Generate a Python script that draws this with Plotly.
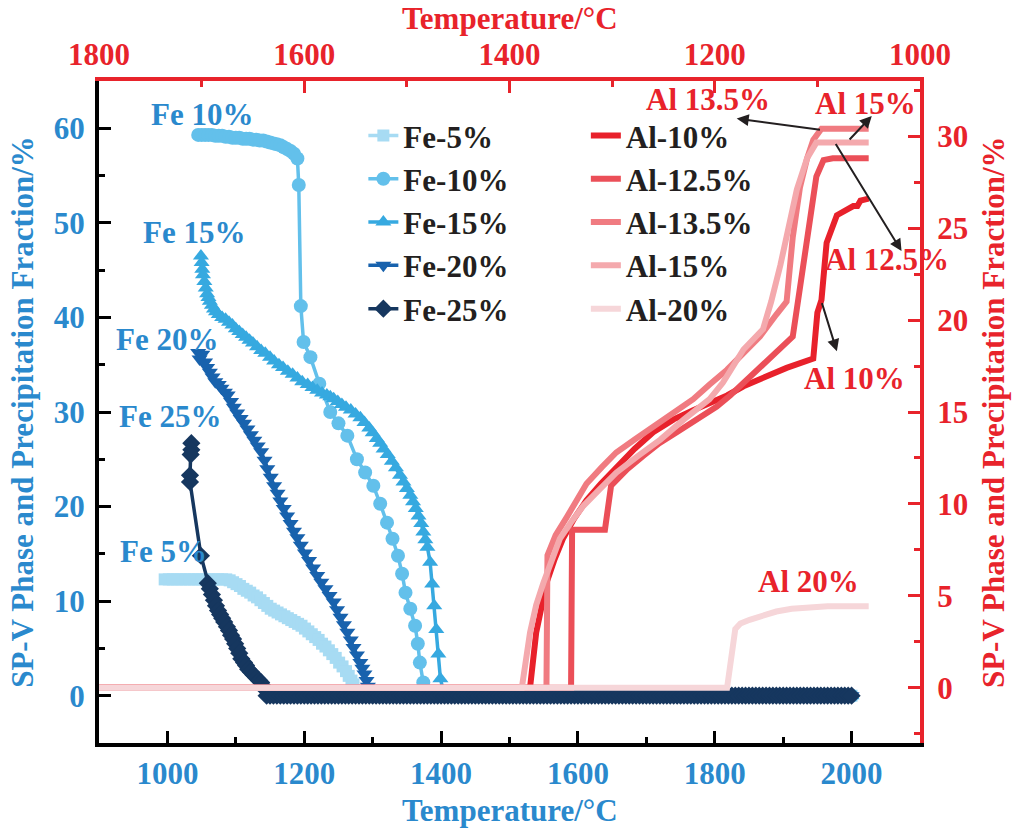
import plotly.graph_objects as go

# ---------------- Fe series: bottom temperature axis / left fraction axis ----------------
FE5_T = [996, 1002, 1008, 1014, 1020, 1026, 1032, 1038, 1044, 1050, 1056, 1062, 1068, 1074,
         1080, 1086, 1091, 1096, 1101, 1106, 1111, 1116, 1121, 1126, 1131, 1136, 1141, 1146,
         1151, 1156, 1161, 1166, 1171, 1176, 1181, 1186, 1191, 1196, 1201, 1206, 1211, 1216,
         1221, 1226, 1231, 1236, 1241, 1246, 1251, 1256, 1261, 1265, 1269, 1272]
FE5_V = [12.3, 12.3, 12.3, 12.3, 12.3, 12.3, 12.3, 12.3, 12.3, 12.3, 12.3, 12.3, 12.3, 12.3,
         12.3, 12.3, 12.2, 12.0, 11.8, 11.6, 11.3, 11.1, 10.9, 10.6, 10.4, 10.1, 9.8, 9.5,
         9.2, 9.0, 8.8, 8.6, 8.4, 8.2, 8.0, 7.8, 7.6, 7.4, 7.1, 6.8, 6.5, 6.2,
         5.9, 5.5, 5.2, 4.8, 4.4, 4.0, 3.5, 3.1, 2.6, 2.1, 1.6, 1.2]

FE10_T = [1045, 1050, 1055, 1060, 1065, 1070, 1075, 1080, 1085, 1090, 1095, 1100, 1105,
          1110, 1115, 1120, 1125, 1130, 1135, 1140, 1145, 1150, 1155, 1160, 1165, 1170,
          1175, 1180, 1185, 1190, 1192, 1195, 1199, 1209, 1222, 1238, 1250, 1263, 1277,
          1289, 1301, 1311, 1321, 1329, 1337, 1343, 1348, 1355, 1362, 1366, 1369, 1374]
FE10_V = [59.3, 59.3, 59.3, 59.3, 59.3, 59.2, 59.2, 59.2, 59.1, 59.1, 59.0, 59.0, 59.0,
          58.9, 58.9, 58.9, 58.8, 58.8, 58.7, 58.7, 58.6, 58.5, 58.4, 58.3, 58.2, 58.0,
          57.8, 57.6, 57.3, 56.8, 54.0, 41.2, 37.4, 35.8, 33.0, 30.0, 28.8, 27.5, 25.0,
          23.6, 22.2, 20.3, 18.3, 16.6, 14.8, 12.9, 10.9, 9.2, 7.4, 5.5, 3.5, 1.4]

FE15_T = [1049, 1050, 1051, 1052, 1054, 1056, 1058, 1060, 1062, 1065, 1068, 1071, 1075,
          1080, 1085, 1090, 1095, 1100, 1105, 1110, 1115, 1120, 1125, 1131, 1137, 1143,
          1150, 1156, 1163, 1169, 1176, 1183, 1190, 1197, 1205, 1212, 1219, 1226, 1233,
          1238, 1243, 1249, 1255, 1261, 1268, 1275, 1282, 1288, 1295, 1300, 1306, 1311,
          1316, 1322, 1328, 1334, 1340, 1345, 1350, 1355, 1359, 1363, 1367, 1371, 1374,
          1377, 1380, 1384, 1387, 1390, 1393, 1396, 1399]
FE15_V = [46.5, 45.8, 45.1, 44.5, 43.8, 43.1, 42.5, 42.1, 41.7, 41.3, 40.9, 40.6, 40.3,
          40.0, 39.8, 39.5, 39.2, 38.8, 38.5, 38.2, 37.9, 37.6, 37.3, 36.9, 36.5, 36.2,
          35.8, 35.4, 35.0, 34.7, 34.3, 34.0, 33.6, 33.2, 32.9, 32.6, 32.3, 32.0, 31.8,
          31.6, 31.4, 31.1, 30.8, 30.5, 30.2, 29.8, 29.4, 28.9, 28.3, 27.8, 27.2, 26.7,
          26.1, 25.5, 24.8, 24.1, 23.3, 22.6, 21.9, 21.2, 20.5, 19.8, 19.0, 18.2, 17.3,
          16.5, 15.7, 14.1, 11.8, 9.5, 7.0, 4.4, 1.8]

FE20_T = [1045, 1047, 1051, 1055, 1058, 1062, 1066, 1070, 1075, 1079, 1084, 1088, 1093,
          1097, 1102, 1107, 1112, 1117, 1122, 1127, 1132, 1137, 1142, 1146, 1151, 1156,
          1161, 1165, 1170, 1175, 1180, 1185, 1190, 1195, 1201, 1207, 1213, 1219, 1225,
          1231, 1237, 1243, 1248, 1253, 1258, 1263, 1268, 1272, 1277, 1282, 1285, 1288,
          1291, 1293]
FE20_V = [36.3, 35.6, 36.1, 35.3, 34.7, 34.2, 33.7, 33.2, 32.9, 32.5, 32.1, 31.8, 31.1,
          30.5, 29.9, 29.3, 28.8, 28.2, 27.6, 27.0, 26.4, 25.8, 24.9, 24.0, 23.1, 22.2,
          21.4, 20.6, 19.8, 19.0, 18.2, 17.4, 16.7, 15.9, 15.1, 14.3, 13.5, 12.7, 12.0,
          11.3, 10.6, 9.9, 9.1, 8.3, 7.5, 6.7, 5.9, 5.1, 4.3, 3.5, 2.9, 2.3,
          1.6, 1.0]

FE25_T = [1035, 1035, 1034, 1033, 1033, 1049, 1059, 1062, 1065, 1068, 1071, 1074, 1077,
          1080, 1083, 1087, 1090, 1093, 1096, 1099, 1102, 1105, 1108, 1112, 1115, 1118,
          1122, 1126, 1130, 1134, 1137, 1140, 1142]
FE25_V = [26.7, 26.0, 25.5, 23.3, 22.6, 14.8, 11.9, 11.3, 10.7, 10.1, 9.5, 9.0, 8.6,
          8.2, 7.8, 7.3, 6.9, 6.4, 6.0, 5.5, 5.0, 4.5, 3.9, 3.5, 3.2, 2.8,
          2.5, 2.2, 1.9, 1.6, 1.4, 1.0, 0.7]

# once the SP-V phase is gone every Fe series stays at 0 up to 2000 °C (5 °C step)
FE_ZERO_T = list(range(1145, 2001, 5))

# ---------------- Al series: top temperature axis / right fraction axis ----------------
AL10_T = [1800, 1380, 1374, 1364, 1356, 1348, 1337, 1325, 1311, 1296, 1278, 1260, 1240,
          1221, 1205, 1188, 1172, 1156, 1130, 1104, 1100, 1096, 1091, 1081, 1070, 1065,
          1061, 1058, 1050]
AL10_V = [0, 0, 3.0, 5.7, 7.0, 8.1, 9.2, 10.2, 11.1, 12.0, 13.0, 13.9, 14.6,
          15.1, 15.5, 15.9, 16.4, 16.8, 17.4, 17.9, 20.4, 21.1, 24.2, 25.7, 26.0, 26.2,
          26.2, 26.5, 26.6]

AL125_T = [1800, 1340, 1339, 1307, 1301, 1285, 1270, 1254, 1237, 1218, 1198, 1185, 1155,
           1124, 1115, 1107, 1101, 1094, 1085, 1050]
AL125_V = [0, 0, 8.6, 8.6, 11.0, 11.9, 12.6, 13.3, 13.9, 14.6, 15.3, 15.9, 17.5,
           19.1, 22.5, 25.7, 27.8, 28.7, 28.8, 28.8]

AL135_T = [1800, 1364, 1363, 1355, 1344, 1335, 1325, 1310, 1296, 1278, 1260, 1240, 1221,
           1205, 1188, 1172, 1156, 1140, 1130, 1124, 1117, 1110, 1104, 1096, 1050]
AL135_V = [0, 0, 7.2, 8.3, 9.3, 10.2, 11.1, 12.0, 12.8, 13.5, 14.2, 14.9, 15.7,
           16.5, 17.3, 18.2, 19.1, 20.3, 21.0, 24.5, 27.2, 28.8, 29.8, 30.4, 30.4]

AL15_T = [1800, 1388, 1380, 1374, 1367, 1359, 1351, 1340, 1328, 1312, 1296, 1275, 1253,
          1230, 1205, 1192, 1172, 1153, 1145, 1136, 1128, 1120, 1110, 1101, 1050]
AL15_V = [0, 0, 3.0, 4.5, 5.7, 7.0, 8.1, 9.0, 9.9, 10.8, 11.7, 12.6, 13.5,
          14.6, 15.7, 16.6, 18.4, 19.5, 21.0, 23.0, 25.0, 27.1, 28.8, 29.65, 29.65]

AL20_T = [1800, 1188, 1180, 1175, 1166, 1155, 1140, 1125, 1107, 1090, 1050]
AL20_V = [0, 0, 3.2, 3.5, 3.7, 3.9, 4.15, 4.3, 4.4, 4.43, 4.43]

FONT = "Liberation Serif"
BLUE = "#2a89cd"
RED = "#e8232b"
INK = "#231f20"

fe_series = [
    ("Fe-5%", FE5_T, FE5_V, "#a7dbf3", "square", 12),
    ("Fe-10%", FE10_T, FE10_V, "#63c0eb", "circle", 14),
    ("Fe-15%", FE15_T, FE15_V, "#36a9e0", "triangle-up", 14),
    ("Fe-20%", FE20_T, FE20_V, "#1862ad", "triangle-down", 14),
    ("Fe-25%", FE25_T, FE25_V, "#16375f", "diamond", 14),
]
al_series = [
    ("Al-10%", AL10_T, AL10_V, "#e8212b"),
    ("Al-12.5%", AL125_T, AL125_V, "#eb4f58"),
    ("Al-13.5%", AL135_T, AL135_V, "#f07b81"),
    ("Al-15%", AL15_T, AL15_V, "#f4a9ad"),
    ("Al-20%", AL20_T, AL20_V, "#f6d6d9"),
]

fig = go.Figure()

for name, t, v, color, symbol, size in fe_series:
    tail = [x for x in FE_ZERO_T if x > t[-1] + 2]
    fig.add_trace(go.Scatter(
        x=t + tail, y=v + [0] * len(tail), name=name, mode="lines+markers",
        line=dict(color=color, width=3.5),
        marker=dict(symbol=symbol, size=size, color=color),
        xaxis="x", yaxis="y", legend="legend",
    ))

for name, t, v, color in al_series:
    fig.add_trace(go.Scatter(
        x=t, y=v, name=name, mode="lines",
        line=dict(color=color, width=6),
        xaxis="x2", yaxis="y2", legend="legend2",
    ))

tick_font = dict(family=FONT, size=31, weight="bold")

common = dict(showgrid=False, zeroline=False, showline=True, linewidth=4,
              ticks="inside", ticklen=12, tickwidth=3, automargin=False)

legend_font = dict(family=FONT, size=31, color=INK, weight="bold")

fig.update_layout(
    width=1013, height=829,
    margin=dict(l=99, r=93, t=81, b=86),
    paper_bgcolor="white", plot_bgcolor="white",
    font=dict(family=FONT, weight="bold"),
    xaxis=dict(range=[900, 2100], tick0=1000, dtick=200, linecolor="black", tickcolor="black",
               minor=dict(dtick=100, ticks="inside", ticklen=6, tickwidth=3, tickcolor="black"),
               tickfont=dict(tick_font, color=BLUE), ticklabelstandoff=0, **common),
    xaxis2=dict(range=[1800, 1000], tick0=1000, dtick=200, overlaying="x", side="top",
                anchor="y2", linecolor=RED, tickcolor=RED,
                minor=dict(dtick=100, ticks="inside", ticklen=6, tickwidth=3, tickcolor=RED),
                tickfont=dict(tick_font, color=RED), ticklabelstandoff=0, **common),
    yaxis=dict(range=[-5, 65], tick0=0, dtick=10, linecolor="black", tickcolor="black",
               minor=dict(dtick=5, ticks="inside", ticklen=6, tickwidth=3, tickcolor="black"),
               tickfont=dict(tick_font, color=BLUE), ticklabelstandoff=4, **common),
    yaxis2=dict(range=[-3, 33], tick0=0, dtick=5, overlaying="y", side="right",
                anchor="x2", linecolor=RED, tickcolor=RED,
                minor=dict(dtick=2.5, ticks="inside", ticklen=6, tickwidth=3, tickcolor=RED),
                tickfont=dict(tick_font, color=RED), ticklabelstandoff=7, **common),
    legend=dict(x=0.322, y=0.958, xanchor="left", yanchor="top", bgcolor="rgba(0,0,0,0)",
                font=legend_font, tracegroupgap=0, itemsizing="trace"),
    legend2=dict(x=0.593, y=0.958, xanchor="left", yanchor="top", bgcolor="rgba(0,0,0,0)",
                 font=legend_font, tracegroupgap=0),
)

# axis titles
title_font = dict(family=FONT, size=31, weight="bold")
axis_titles = [
    ("Temperature/°C", 0.5, -0.1015, 0, BLUE),
    ("Temperature/°C", 0.5, 1.095, 0, RED),
    ("SP-V Phase and Precipitation Fraction/%", -0.094, 0.5, -90, BLUE),
    ("SP-V Phase and Precipitation Fraction/%", 1.089, 0.5, -90, RED),
]
for text, x, y, angle, color in axis_titles:
    fig.add_annotation(text=text, x=x, y=y, xref="paper", yref="paper", showarrow=False,
                       textangle=angle, xanchor="center", yanchor="middle",
                       font=dict(title_font, color=color))

# curve labels
label_font = dict(family=FONT, size=31, weight="bold")
fe_labels = [("Fe 10%", 1051, 61.5), ("Fe 15%", 1039, 49.0), ("Fe 20%", 1000, 37.7),
             ("Fe 25%", 1004, 29.5), ("Fe 5%", 994, 15.2)]
for text, x, y in fe_labels:
    fig.add_annotation(text=text, x=x, y=y, xref="x", yref="y", showarrow=False,
                       font=dict(label_font, color=BLUE))

al_labels = [("Al 13.5%", 1207, 32.0), ("Al 15%", 1053, 31.8), ("Al 12.5%", 1032, 23.3),
             ("Al 10%", 1064, 16.8), ("Al 20%", 1109, 5.8)]
for text, x, y in al_labels:
    fig.add_annotation(text=text, x=x, y=y, xref="x2", yref="y2", showarrow=False,
                       font=dict(label_font, color=RED))

# pointer arrows: (head T, head v, tail T, tail v)
arrows = [(1178.6, 30.96, 1096, 30.34), (1047, 31.1, 1070, 29.74),
          (1018, 23.75, 1083, 29.65), (1081, 18.3, 1096, 21.0)]
for hx, hy, tx, ty in arrows:
    fig.add_annotation(text="", x=hx, y=hy, ax=tx, ay=ty, xref="x2", yref="y2",
                       axref="x2", ayref="y2", showarrow=True, arrowhead=2,
                       arrowsize=1.2, arrowwidth=2, arrowcolor=INK)

fig.write_html("out.html")
